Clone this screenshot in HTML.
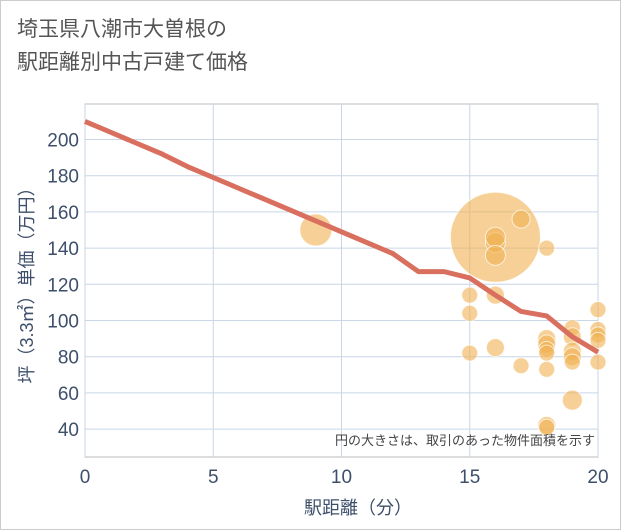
<!DOCTYPE html>
<html><head><meta charset="utf-8"><style>
body{margin:0;background:#fff}
#c{position:relative;width:619px;height:528px;border:1px solid #ccc;background:#fff;font-family:"Liberation Sans","Noto Sans CJK JP",sans-serif}
.t{position:absolute;left:16px;top:12px;font-size:21px;line-height:33px;color:#555}
</style></head><body>
<div id="c">
<div class="t">埼玉県八潮市大曽根の<br>駅距離別中古戸建て価格</div>
<svg id="s" width="619" height="528" style="position:absolute;left:0;top:0" font-family="Liberation Sans, Noto Sans CJK JP, sans-serif"></svg>
</div>
<script>
const xTicks=[0,5,10,15,20];
const yTicks=[40,60,80,100,120,140,160,180,200];
const lineX=[0,1,2,3,4,5,6,7,8,9,10,11,12,13,14,15,16,17,18,19,20];
const lineY=[210,204,198,192,185,179,173,167,161,155,149,143,137,127,127,123.5,114,105,102.5,91,82.5];
const bubX=[9,16,16,16,16,17,18,15,15,15,16,16,17,18,18,18,18,18,18,18,19,19,19,19,19,19,20,20,20,20,20];
const bubY=[150,146,143,146,136,156,140,114,104,82,114,85,75,90,87,84,82,73,42,41,96,91,83,80,77,56,106,95,92,89,77];
const bubR=[16,45,9,9,9,8,7,7,7,7,8,8,7,8,8,7,7,7,8,7,7,8,8,8,7,9,7,7,7,7,7];
const NS='http://www.w3.org/2000/svg';
const s=document.getElementById('s');
const L=84,R=597,T=103,B=456;
const X=v=>L+(v-0)/20*(R-L);
const Y=v=>500.5-v*1.81;
function mk(t,a,p){const e=document.createElementNS(NS,t);for(const k in a)e.setAttribute(k,a[k]);(p||s).appendChild(e);return e;}
mk('rect',{x:L,y:T,width:R-L,height:B-T,fill:'#fff',stroke:'#bbb'});
yTicks.forEach(v=>{
const g=mk('line',{x1:L,x2:R,y1:Y(v),y2:Y(v),stroke:'#c8d6e6'});


const t=mk('text',{x:L-6,y:Y(v)+7,'text-anchor':'end','font-size':19,fill:'#3d4f6a'});t.textContent=v;


});
xTicks.forEach(v=>{
const g=mk('line',{x1:X(v),x2:X(v),y1:T,y2:B,stroke:'#c8d6e6'});


const t=mk('text',{x:X(v),y:B+26,'text-anchor':'middle','font-size':19,fill:'#3d4f6a'});t.textContent=v;


});
bubX.forEach((v,i)=>{
const c=mk('circle',{cx:X(v),cy:Y(bubY[i]),r:bubR[i]+(bubR[i]<12?1:0),fill:'rgba(240,177,80,0.6)',stroke:'rgba(255,255,255,0.7)','stroke-width':1});


});
const pl=mk('polyline',{points:lineX.map((v,i)=>X(v)+','+Y(lineY[i])).join(' '),fill:'none',stroke:'#d9705f','stroke-width':5,'stroke-linejoin':'round'});


const n=mk('text',{x:594,y:444,'text-anchor':'end','font-size':13,fill:'#444'});n.textContent='円の大きさは、取引のあった物件面積を示す';


const xt=mk('text',{x:357,y:513,'text-anchor':'middle','font-size':18,fill:'#3d4f6a'});xt.textContent='駅距離（分）';


const yt=mk('text',{x:0,y:0,'text-anchor':'middle','font-size':18,fill:'#3d4f6a',transform:'translate(32,280) rotate(-90)'});yt.textContent='坪（3.3㎡）単価（万円）';


</script>
</body></html>
